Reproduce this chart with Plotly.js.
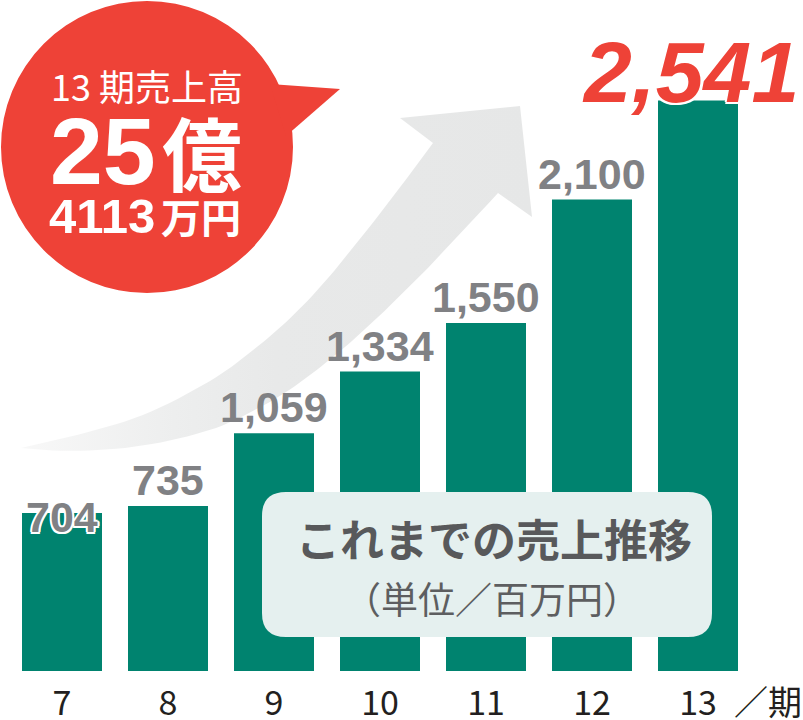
<!DOCTYPE html>
<html>
<head>
<meta charset="utf-8">
<script src="https://cdn.plot.ly/plotly-3.0.1.min.js"></script>
<style>html,body{margin:0;padding:0;background:#fff;}#chart{width:803px;height:720px;}</style>
</head>
<body>
<div id="chart"></div>
<script>
// ---- data ----
const periods = [7, 8, 9, 10, 11, 12, 13];
const periodLabels = ['7', '8', '9', '10', '11', '12', '13'];
const sales = [704, 735, 1059, 1334, 1550, 2100, 2541];
const salesLabels = ['704', '735', '1,059', '1,334', '1,550', '2,100', '2,541'];
const periodSuffix = '／期';
const boxTitle = 'これまでの売上推移';
const boxSubtitle = '（単位／百万円）';
const badgeLine1 = '13 期売上高';
const badgeBigNum = '25';
const badgeBigUnit = '億';
const badgeSmallNum = '4113';
const badgeSmallUnit = '万円';

// ---- styles ----
const TEAL = '#00836F';
const RED = '#EE4237';
const GRAY = '#808184';
const DARK = '#58595B';
const W = 803, H = 671; // plot area in px (margins l=0,r=0,t=0,b=49)
const fx = x => (x / W).toFixed(5);
const fy = y => (1 - y / H).toFixed(5);
const NUMFONT = 'Liberation Sans, Arial, sans-serif';
const JPFONT = 'Noto Sans CJK JP, sans-serif';
const WHITE_OUTLINE = '2px 0 0 #fff, -2px 0 0 #fff, 0 2px 0 #fff, 0 -2px 0 #fff, 1.5px 1.5px 0 #fff, -1.5px -1.5px 0 #fff, 1.5px -1.5px 0 #fff, -1.5px 1.5px 0 #fff';

function poly(pts) {
  return pts.map((p, i) => (i ? 'L' : 'M') + fx(p[0]) + ',' + fy(p[1])).join(' ') + ' Z';
}
function roundRect(x0, y0, x1, y1, r) {
  return 'M' + fx(x0 + r) + ',' + fy(y0) +
    ' L' + fx(x1 - r) + ',' + fy(y0) + ' Q' + fx(x1) + ',' + fy(y0) + ' ' + fx(x1) + ',' + fy(y0 + r) +
    ' L' + fx(x1) + ',' + fy(y1 - r) + ' Q' + fx(x1) + ',' + fy(y1) + ' ' + fx(x1 - r) + ',' + fy(y1) +
    ' L' + fx(x0 + r) + ',' + fy(y1) + ' Q' + fx(x0) + ',' + fy(y1) + ' ' + fx(x0) + ',' + fy(y1 - r) +
    ' L' + fx(x0) + ',' + fy(y0 + r) + ' Q' + fx(x0) + ',' + fy(y0) + ' ' + fx(x0 + r) + ',' + fy(y0) + ' Z';
}
// smooth a polyline by quadratic midpoints, sampled densely (decorative outline in pixel space)
function sampleSmooth(pts) {
  const out = [pts[0]];
  let prev = pts[0];
  for (let i = 1; i < pts.length - 1; i++) {
    const c = pts[i];
    const end = [(pts[i][0] + pts[i + 1][0]) / 2, (pts[i][1] + pts[i + 1][1]) / 2];
    for (let k = 1; k <= 8; k++) {
      const t = k / 8, u = 1 - t;
      out.push([u * u * prev[0] + 2 * u * t * c[0] + t * t * end[0], u * u * prev[1] + 2 * u * t * c[1] + t * t * end[1]]);
    }
    prev = end;
  }
  out.push(pts[pts.length - 1]);
  return out;
}

// arrow outline (decoration, pixel space)
const arrowUpper = [[21,448],[71,437],[143,417],[214,380],[250,353],[286,323],[321,287],[357,243],[393,197],[433,143]];
const arrowHead = [[400,118],[520,106],[532,217]];
const arrowLower = [[498,193],[464,230],[429,267],[393,303],[357,337],[321,367],[286,393],[250,413],[214,430],[143,447],[71,452],[21,448]];
const arrowPts = sampleSmooth(arrowUpper).concat(arrowHead, sampleSmooth(arrowLower));

const arrowTrace = {
  type: 'scatter', mode: 'lines', xaxis: 'x2', yaxis: 'y2',
  x: arrowPts.map(p => p[0]), y: arrowPts.map(p => p[1]),
  fill: 'toself', line: {width: 0, color: 'rgba(0,0,0,0)'},
  fillgradient: {type: 'horizontal', colorscale: [[0, '#F8F8F8'], [0.3, '#EDEEEE'], [0.5, '#E8E9E9'], [1, '#E6E7E7']]},
  hoverinfo: 'skip', showlegend: false
};

const shapes = [
  {type: 'circle', xref: 'paper', yref: 'paper', x0: fx(1), x1: fx(293), y0: fy(293), y1: fy(1), fillcolor: RED, line: {width: 0}, layer: 'above'},
  {type: 'path', xref: 'paper', yref: 'paper', path: poly([[270,84],[340,89],[286,136]]), fillcolor: RED, line: {width: 0}, layer: 'above'},
  {type: 'path', xref: 'paper', yref: 'paper', path: roundRect(262, 492, 712, 637, 24), fillcolor: '#E5F0EF', line: {width: 0}, layer: 'above'}
];

const last = sales.length - 1;
const annotations = sales.map((v, i) => {
  const hi = i === last;
  return {
    x: periods[i], y: v, xref: 'x', yref: 'y', text: salesLabels[i], showarrow: false,
    xanchor: 'center', yanchor: 'bottom',
    xshift: hi ? -8 : 0,
    yshift: i === 0 ? -30 : (hi ? -21 : 0),
    font: {family: NUMFONT, size: hi ? 86 : 43, color: hi ? RED : GRAY, weight: 'bold', style: hi ? 'italic' : 'normal',
           shadow: (i === 0 || hi) ? WHITE_OUTLINE : 'none'}
  };
});
function pa(text, x, y, font, xanchor) {
  return {xref: 'paper', yref: 'paper', x: fx(x), y: fy(y), text: text, showarrow: false,
          xanchor: xanchor || 'center', yanchor: 'middle', font: font};
}
annotations.push(
  pa(badgeLine1, 147, 85, {family: JPFONT, size: 36, color: '#fff'}),
  pa(badgeBigNum, 158, 151, {family: NUMFONT, size: 95, color: '#fff', weight: 'bold'}, 'right'),
  pa(badgeBigUnit, 160, 150, {family: JPFONT, size: 80, color: '#fff', weight: 'bold'}, 'left'),
  pa(badgeSmallNum, 157, 216, {family: NUMFONT, size: 49, color: '#fff', weight: 'bold'}, 'right'),
  pa(badgeSmallUnit, 159, 216, {family: JPFONT, size: 40, color: '#fff', weight: 'bold'}, 'left'),
  pa(boxTitle, 494, 538, {family: JPFONT, size: 44, color: DARK, weight: 'bold'}),
  pa(boxSubtitle, 492, 598, {family: JPFONT, size: 37, color: '#5D5E60'}),
  pa(periodSuffix, 732, 700, {family: JPFONT, size: 34, color: '#231F20'}, 'left')
);

const barTrace = {
  type: 'bar', x: periods, y: sales, width: 0.7547,
  marker: {color: TEAL, line: {width: 0}}, hoverinfo: 'skip', textposition: 'none'
};

const layout = {
  width: 803, height: 720,
  margin: {l: 0, r: 0, t: 0, b: 49, pad: 0},
  paper_bgcolor: '#fff', plot_bgcolor: '#fff',
  showlegend: false,
  xaxis: {range: [6.4151, 13.9906], tickvals: periods, ticktext: periodLabels, showgrid: false, zeroline: false,
          showline: false, ticks: '', tickfont: {family: JPFONT, size: 34, color: '#231F20'}, ticklabelstandoff: 9, fixedrange: true},
  yaxis: {range: [0, 2989], visible: false, showgrid: false, zeroline: false, fixedrange: true},
  xaxis2: {overlaying: 'x', anchor: 'y2', range: [0, W], visible: false, fixedrange: true},
  yaxis2: {overlaying: 'y', anchor: 'x2', range: [H, 0], visible: false, fixedrange: true},
  shapes: shapes,
  annotations: annotations
};

Plotly.newPlot('chart', [barTrace, arrowTrace], layout, {displayModeBar: false, staticPlot: true});
</script>
</body>
</html>
